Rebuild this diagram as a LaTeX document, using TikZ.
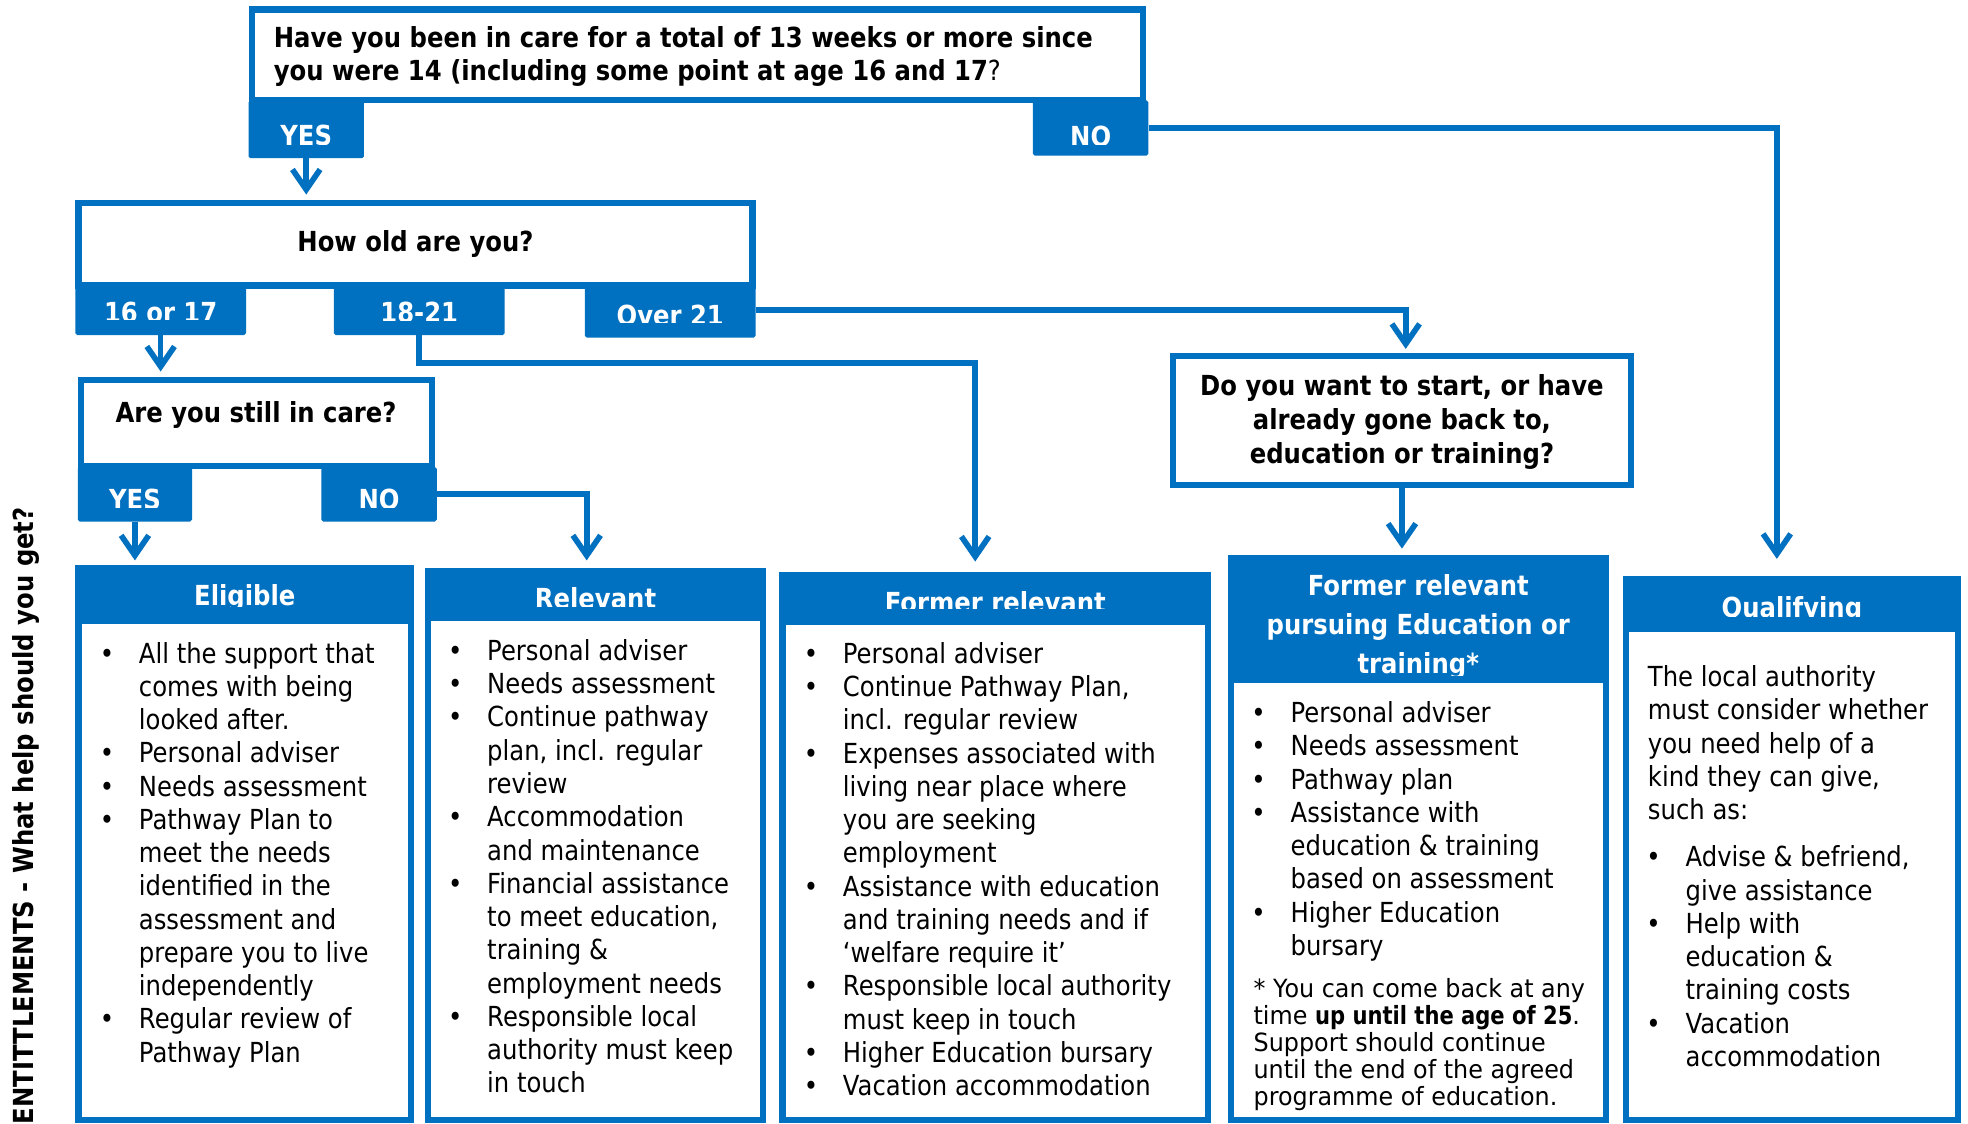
\documentclass[tikz,border=0pt]{standalone}
\usepackage{fontspec}
\setmainfont{DejaVu Sans}[FakeStretch=0.88]
\newfontfamily\fnfont{DejaVu Sans}[FakeStretch=0.95,BoldFeatures={FakeStretch=0.84}]
\usetikzlibrary{arrows.meta}
\definecolor{cblue}{RGB}{0,112,192}
\newcommand{\bitem}{\makebox[25.5pt][l]{\makebox[0pt]{\textbullet}}}
\newcommand{\bcont}{\hspace*{25.5pt}}
\begin{document}
\begin{tikzpicture}[x=1pt,y=-1pt,
  qbox/.style={draw=cblue,line width=5pt,fill=white,inner sep=0pt,rectangle},
  tabbox/.style={fill=cblue,inner sep=0pt,rectangle,rounded corners=1.5pt},
  resbox/.style={draw=cblue,line width=5pt,fill=white,inner sep=0pt,rectangle},
  tabtxt/.style={text=white,font=\fontsize{22}{26.5}\selectfont\bfseries,inner sep=0pt,anchor=base},
  qtxt/.style={font=\fontsize{22}{27}\selectfont\bfseries,inner sep=0pt,anchor=base},
  ttl/.style={text=white,font=\fontsize{22}{31}\selectfont\bfseries,inner sep=0pt,anchor=base},
  body/.style={font=\fontsize{22}{26.5}\selectfont,inner sep=0pt,anchor=base west},
  conn/.style={draw=cblue,line width=4.5pt},
  arr/.style={conn,-{Straight Barb[length=16pt,width=22pt]}}]
\useasboundingbox (0,0) rectangle (1568,895);
\fill[white] (0,0) rectangle (1568,895);

% ---------- question boxes ----------
\node[qbox,minimum width=710pt,minimum height=72pt] (q1) at (555.5,43.5) {};
\node[qbox,minimum width=537pt,minimum height=66pt] (q2) at (331,194.5) {};
\node[qbox,minimum width=279.5pt,minimum height=69pt] (q3) at (204.25,337) {};
\node[qbox,minimum width=365pt,minimum height=103pt] (q4) at (1117,335) {};

\node[qtxt,anchor=base west] (q1t) at (218,37.5) {\begin{tabular}[t]{@{}l@{}}
Have you been in care for a total of 13 weeks or more since\\
you were 14 (including some point at age 16 and 17{\mdseries ?}
\end{tabular}};
\node[qtxt] (q2t) at (331,200) {How old are you?};
\node[qtxt] (q3t) at (204,337) {Are you still in care?};
\node[qtxt] (q4t) at (1117,315) {\begin{tabular}[t]{@{}c@{}}
Do you want to start, or have\\
already gone back to,\\
education or training?
\end{tabular}};

% ---------- tabs ----------
\node[tabbox,minimum width=92pt,minimum height=46pt] (yes1) at (244,103) {};
\node[tabbox,minimum width=92pt,minimum height=44pt] (no1) at (869,102) {};
\node[tabbox,minimum width=136pt,minimum height=42pt] (t16) at (128,246) {};
\node[tabbox,minimum width=136pt,minimum height=42pt] (t1821) at (334,246) {};
\node[tabbox,minimum width=136pt,minimum height=44pt] (tover) at (534,247) {};
\node[tabbox,minimum width=91pt,minimum height=43.5pt] (yes2) at (107.5,393.75) {};
\node[tabbox,minimum width=92pt,minimum height=43.5pt] (no2) at (302,393.75) {};

\begin{scope}\clip (yes1.north west) rectangle (yes1.east |- 0,115);
\node[tabtxt] (yes1l) at (yes1.center |- 0,116) {YES};\end{scope}
\begin{scope}\clip (no1.north west) rectangle (no1.east |- 0,115);
\node[tabtxt] (no1l) at (no1.center |- 0,117) {NO};\end{scope}
\begin{scope}\clip (t16.north west) rectangle (t16.east |- 0,254.5);
\node[tabtxt] (t16l) at (t16.center |- 0,257) {16 or 17};\end{scope}
\begin{scope}\clip (t1821.north west) rectangle (t1821.east |- 0,255);
\node[tabtxt] (t1821l) at (t1821.center |- 0,257) {18-21};\end{scope}
\begin{scope}\clip (tover.north west) rectangle (tover.east |- 0,257);
\node[tabtxt] (toverl) at (tover.center |- 0,259) {Over 21};\end{scope}
\begin{scope}\clip (yes2.north west) rectangle (yes2.east |- 0,404);
\node[tabtxt] (yes2l) at (yes2.center |- 0,406) {YES};\end{scope}
\begin{scope}\clip (no2.north west) rectangle (no2.east |- 0,404);
\node[tabtxt] (no2l) at (no2.center |- 0,406) {NO};\end{scope}

% ---------- result boxes ----------
\node[resbox,minimum width=265pt,minimum height=439.5pt] (elig) at (195,672.75) {};
\fill[cblue] (elig.north west) rectangle (elig.north east |- 0,497);
\node[resbox,minimum width=266.7pt,minimum height=437.5pt] (rel) at (474.45,673.75) {};
\fill[cblue] (rel.north west) rectangle (rel.north east |- 0,495);
\node[resbox,minimum width=339pt,minimum height=434.6pt] (frel) at (793,675.2) {};
\fill[cblue] (frel.north west) rectangle (frel.north east |- 0,497.8);
\node[resbox,minimum width=299pt,minimum height=447.9pt] (purs) at (1130,668.55) {};
\fill[cblue] (purs.north west) rectangle (purs.north east |- 0,544.3);
\node[resbox,minimum width=264.4pt,minimum height=430.7pt] (qual) at (1427.7,677.15) {};
\fill[cblue] (qual.north west) rectangle (qual.north east |- 0,503.7);

\begin{scope}\clip (elig.north west) rectangle (elig.north east |- 0,483.2);
\node[ttl] (eligt) at (195,482.4) {Eligible};\end{scope}
\begin{scope}\clip (rel.north west) rectangle (rel.north east |- 0,483.5);
\node[ttl] (relt) at (474.5,484.7) {Relevant};\end{scope}
\begin{scope}\clip (frel.north west) rectangle (frel.north east |- 0,485);
\node[ttl] (frelt) at (793,487.7) {Former relevant};\end{scope}
\begin{scope}\clip (purs.north west) rectangle (purs.north east |- 0,538.4);
\node[ttl] (purst) at (1130,474.5) {\begin{tabular}[t]{@{}c@{}}
Former relevant\\
pursuing Education or\\
training*
\end{tabular}};\end{scope}
\begin{scope}\clip (qual.north west) rectangle (qual.north east |- 0,491);
\node[ttl] (qualt) at (1427.7,492) {Qualifying};\end{scope}

% ---------- lists ----------
\node[body] (eligl) at (85,528.3) {\begin{tabular}[t]{@{}l@{}}
\bitem All the support that\\
\bcont comes with being\\
\bcont looked after.\\
\bitem Personal adviser\\
\bitem Needs assessment\\
\bitem Pathway Plan to\\
\bcont meet the needs\\
\bcont identified in the\\
\bcont assessment and\\
\bcont prepare you to live\\
\bcont independently\\
\bitem Regular review of\\
\bcont Pathway Plan
\end{tabular}};

\node[body] (rell) at (362.5,526.2) {\begin{tabular}[t]{@{}l@{}}
\bitem Personal adviser\\
\bitem Needs assessment\\
\bitem Continue pathway\\
\bcont plan, incl. regular\\
\bcont review\\
\bitem Accommodation\\
\bcont and maintenance\\
\bitem Financial assistance\\
\bcont to meet education,\\
\bcont training \&\\
\bcont employment needs\\
\bitem Responsible local\\
\bcont authority must keep\\
\bcont in touch
\end{tabular}};

\node[body] (frell) at (645.9,528.5) {\begin{tabular}[t]{@{}l@{}}
\bitem Personal adviser\\
\bitem Continue Pathway Plan,\\
\bcont incl. regular review\\
\bitem Expenses associated with\\
\bcont living near place where\\
\bcont you are seeking\\
\bcont employment\\
\bitem Assistance with education\\
\bcont and training needs and if\\
\bcont `welfare require it'\\
\bitem Responsible local authority\\
\bcont must keep in touch\\
\bitem Higher Education bursary\\
\bitem Vacation accommodation
\end{tabular}};

\node[body] (pursl) at (1002.6,575.7) {\begin{tabular}[t]{@{}l@{}}
\bitem Personal adviser\\
\bitem Needs assessment\\
\bitem Pathway plan\\
\bitem Assistance with\\
\bcont education \& training\\
\bcont based on assessment\\
\bitem Higher Education\\
\bcont bursary
\end{tabular}};

\node[font=\fnfont\fontsize{20}{21}\selectfont,inner sep=0pt,anchor=base west] (pursn) at (998.6,795) {\begin{tabular}[t]{@{}l@{}}
* You can come back at any\\
time \textbf{up until the age of 25}.\\
Support should continue\\
until the end of the agreed\\
programme of education.
\end{tabular}};

\node[body] (qualp) at (1312.8,547) {\begin{tabular}[t]{@{}l@{}}
The local authority\\
must consider whether\\
you need help of a\\
kind they can give,\\
such as:
\end{tabular}};

\node[body] (quall) at (1317.3,690.6) {\begin{tabular}[t]{@{}l@{}}
\bitem Advise \& befriend,\\
\bcont give assistance\\
\bitem Help with\\
\bcont education \&\\
\bcont training costs\\
\bitem Vacation\\
\bcont accommodation
\end{tabular}};

% ---------- side label ----------
\node[rotate=90,anchor=base east,inner sep=0pt,font=\fontsize{22}{26}\selectfont\bfseries] (side) at (27,404) {ENTITTLEMENTS - What help should you get?};

% ---------- connectors ----------
\draw[arr,shorten >=4pt] (yes1.south) -- (yes1.south |- q2.north);
\draw[arr,shorten >=14pt] (no1.east) -| ([xshift=-12pt]qual.north);
\draw[arr,shorten >=4pt] (t16.south) -- (t16.south |- q3.north);
\draw[arr,shorten >=8pt] (t1821.south) -- ++(0,22) -| ([xshift=-16pt]frel.north);
\draw[arr,shorten >=3pt] (tover.east) -| ([xshift=3pt]q4.north);
\draw[arr,shorten >=4pt] (yes2.south) -- (yes2.south |- elig.north);
\draw[arr,shorten >=6pt] (no2.east) -| ([xshift=-7pt]rel.north);
\draw[arr,shorten >=5pt] (q4.south) -- (q4.south |- purs.north);
\end{tikzpicture}
\end{document}
